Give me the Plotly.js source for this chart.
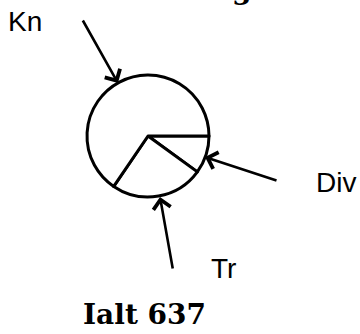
<!DOCTYPE html>
<html>
<head>
<meta charset="utf-8">
<script src="https://cdn.plot.ly/plotly-3.0.1.min.js"></script>
<style>html,body{margin:0;padding:0;background:#fff;}#chart{width:360px;height:334px;}</style>
</head>
<body>
<div id="chart"></div>
<script>
const labels = ['Div', 'Tr', 'Kn'];
const values = [10, 24.5, 65.5];
const totalLabel = 'Ialt 637';
const topTitle = 'Kun Vogel';

const W = 360, H = 334;
const px = x => x / W;
const py = y => 1 - y / H;

const cx = 148, cy = 136, r = 61;

const trace = {
  type: 'pie',
  labels: labels,
  values: values,
  sort: false,
  direction: 'clockwise',
  rotation: 90,
  textinfo: 'none',
  hoverinfo: 'label+value',
  showlegend: false,
  marker: {colors: ['#ffffff', '#ffffff', '#ffffff'], line: {color: '#000', width: 3}},
  domain: {x: [px(cx - r), px(cx + r)], y: [py(cy + r), py(cy - r)]}
};

const sans = {family: 'Liberation Sans, Arial, sans-serif', size: 28, color: '#000'};
const serif = {family: 'DejaVu Serif, serif', size: 28, color: '#000', weight: 'bold'};

// label positions (text centre) and arrow geometry, in pixels
const labelPos = {Kn: [25, 22], Div: [336, 182], Tr: [223, 268]};
const arrowTip = {Kn: [118, 83], Div: [205, 157], Tr: [160, 197]};
const arrowTail = {Kn: [82, 19], Div: [278, 181], Tr: [173, 270]};

const annotations = [];
labels.forEach(l => {
  annotations.push({
    xref: 'paper', yref: 'paper', x: px(labelPos[l][0]), y: py(labelPos[l][1]),
    xanchor: 'center', yanchor: 'middle', text: l, showarrow: false, font: sans
  });
  annotations.push({
    xref: 'paper', yref: 'paper', x: px(arrowTip[l][0]), y: py(arrowTip[l][1]),
    ax: arrowTail[l][0] - arrowTip[l][0], ay: arrowTail[l][1] - arrowTip[l][1],
    text: '', showarrow: true, arrowhead: 4, arrowsize: 1.3, arrowwidth: 2.6,
    arrowcolor: '#000', standoff: 0, startstandoff: 0
  });
});
annotations.push({
  xref: 'paper', yref: 'paper', x: px(144), y: py(314), xanchor: 'center', yanchor: 'middle',
  text: '<b>' + totalLabel + '</b>', showarrow: false, font: serif
});
annotations.push({
  xref: 'paper', yref: 'paper', x: px(200), y: py(8.5), xanchor: 'center', yanchor: 'bottom',
  text: '<b>' + topTitle + '</b>', showarrow: false, font: serif
});

const layout = {
  width: W, height: H,
  margin: {l: 0, r: 0, t: 0, b: 0},
  paper_bgcolor: '#fff', plot_bgcolor: '#fff',
  showlegend: false,
  annotations: annotations
};

Plotly.newPlot('chart', [trace], layout, {staticPlot: true, displayModeBar: false});
</script>
</body>
</html>
